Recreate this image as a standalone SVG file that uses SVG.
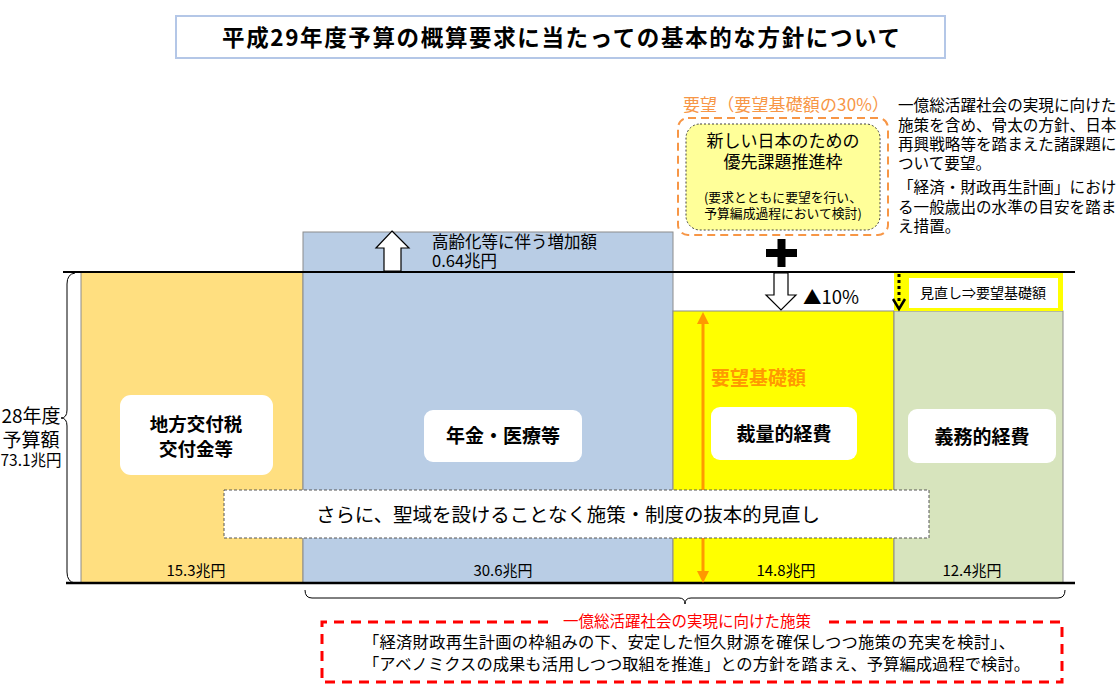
<svg xmlns="http://www.w3.org/2000/svg" width="1119" height="689" viewBox="0 0 1119 689">
<style>
text{font-family:"Noto Sans CJK JP","Noto Sans CJK SC",sans-serif;fill:#000}
.b{font-weight:bold}
.lbl{fill:#fff;stroke:none}
.bar{stroke:#8c8c8c;stroke-width:1}
.amt{font-size:15px;text-anchor:middle}
.rt{font-size:15.6px}
</style>
<rect width="1119" height="689" fill="#fff"/>
<g id="title">
<rect x="176" y="16" width="769" height="42" fill="#fff" stroke="#b4c7e7" stroke-width="2"/>
<text x="222" y="46" class="b" font-size="22.5" textLength="678">平成29年度予算の概算要求に当たっての基本的な方針について</text>
</g>
<g id="bars">
<rect class="bar" x="81" y="272" width="222" height="311" fill="#ffdf80"/>
<rect class="bar" x="303" y="232" width="370" height="351" fill="#b9cde5"/>
<rect class="bar" x="673" y="311" width="221" height="272" fill="#ffff00"/>
<rect class="bar" x="894" y="311" width="169" height="272" fill="#d7e4bd"/>
</g>
<g id="lines">
<line x1="63" y1="272" x2="1075" y2="272" stroke="#000" stroke-width="2"/>
<line x1="66" y1="583" x2="1075" y2="583" stroke="#000" stroke-width="2.5"/>
</g>
<g id="review">
<rect x="894" y="273" width="169" height="38" fill="#ffff00"/>
<rect x="909" y="278" width="149" height="30" fill="#fff"/>
<text x="920" y="298" font-size="14">見直し⇒要望基礎額</text>
</g>
<g id="connectors" fill="none" stroke="#000">
<path d="M75,273 Q67,274 67,284 L67,410 Q67,418 61,418 Q67,418 67,426 L67,572 Q67,582 75,583" stroke-width="1"/>
<path d="M305,590 Q305,598 312,598 L679,598 Q685,598 685,604 Q685,598 691,598 L1058,598 Q1065,598 1065,590" stroke-width="1"/>
<polygon points="392,231 409,248 401,248 401,271 384,271 384,248 376,248" fill="#fff" stroke-width="1.2"/>
<polygon points="774,273 788,273 788,295 796,295 781,310 766,295 774,295" fill="#fff" stroke-width="1.2"/>
<line x1="899" y1="274" x2="899" y2="304" stroke-width="3" stroke-dasharray="3 3"/>
<polyline points="893,299 899,309 905,299" stroke-width="2.5"/>
<line x1="703" y1="320" x2="703" y2="575" stroke="#ff9900" stroke-width="3"/>
<polygon points="703,312 697,324 709,324" fill="#ff9900" stroke="none"/>
<polygon points="703,583 697,571 709,571" fill="#ff9900" stroke="none"/>
</g>
<g id="plus" fill="#000">
<rect x="766" y="249" width="31" height="8"/>
<rect x="777.5" y="239" width="8" height="28"/>
</g>
<g id="budget28">
<text x="31" y="423" font-size="19" text-anchor="middle">28年度</text>
<text x="31" y="447" font-size="19" text-anchor="middle">予算額</text>
<text x="31" y="466" font-size="15.5" text-anchor="middle">73.1兆円</text>
</g>
<g id="increase">
<text x="432" y="248" font-size="16.5">高齢化等に伴う増加額</text>
<text x="432" y="267" font-size="16.5">0.64兆円</text>
</g>
<g id="cut">
<text x="803" y="304" font-size="18.5">▲10%</text>
</g>
<g id="node-local">
<rect class="lbl" x="120" y="395" width="153" height="80" rx="11"/>
<text x="196" y="431" class="b" font-size="18.5" text-anchor="middle">地方交付税</text>
<text x="196" y="456" class="b" font-size="18.5" text-anchor="middle">交付金等</text>
<text x="196" y="576" class="amt">15.3兆円</text>
</g>
<g id="node-pension">
<rect class="lbl" x="424" y="410" width="158" height="52" rx="9"/>
<text x="503" y="443" class="b" font-size="19" text-anchor="middle">年金・医療等</text>
<text x="503" y="576" class="amt">30.6兆円</text>
</g>
<g id="node-discretionary">
<text x="711" y="385" class="b" font-size="19" style="fill:#ff9900">要望基礎額</text>
<rect class="lbl" x="711" y="407" width="146" height="53" rx="9"/>
<text x="784" y="441" class="b" font-size="19" text-anchor="middle">裁量的経費</text>
<text x="786" y="576" class="amt">14.8兆円</text>
</g>
<g id="node-mandatory">
<rect class="lbl" x="908" y="409" width="148" height="54" rx="9"/>
<text x="982" y="444" class="b" font-size="19" text-anchor="middle">義務的経費</text>
<text x="972" y="576" class="amt">12.4兆円</text>
</g>
<g id="node-review-all">
<rect x="224" y="490" width="705" height="48" fill="#fff" stroke="#555" stroke-width="1" stroke-dasharray="3 2"/>
<text x="316" y="522" font-size="19.5" textLength="504">さらに、聖域を設けることなく施策・制度の抜本的見直し</text>
</g>
<g id="node-request">
<text x="683" y="111" font-size="17" textLength="206" style="fill:#f79646">要望（要望基礎額の30%）</text>
<rect x="678" y="118" width="210" height="117" rx="10" fill="none" stroke="#f79646" stroke-width="2" stroke-dasharray="8 5"/>
<rect x="686" y="124" width="194" height="106" rx="14" fill="#ffff99" stroke="#404040" stroke-width="1" stroke-dasharray="2 2"/>
<text x="783" y="147" font-size="17" text-anchor="middle">新しい日本のための</text>
<text x="783" y="168" font-size="17" text-anchor="middle">優先課題推進枠</text>
<text x="783" y="202" font-size="12.8" text-anchor="middle">(要求とともに要望を行い、</text>
<text x="783" y="218" font-size="12.8" text-anchor="middle">予算編成過程において検討)</text>
</g>
<g id="note-right">
<text x="898" y="111" class="rt">一億総活躍社会の実現に向けた</text>
<text x="898" y="131" class="rt">施策を含め、骨太の方針、日本</text>
<text x="898" y="150" class="rt">再興戦略等を踏まえた諸課題に</text>
<text x="898" y="169" class="rt">ついて要望。</text>
<text x="898" y="193" class="rt">「経済・財政再生計画」におけ</text>
<text x="898" y="213" class="rt">る一般歳出の水準の目安を踏ま</text>
<text x="898" y="232" class="rt">え措置。</text>
</g>
<g id="node-policy">
<path d="M548,622 L322,622 L322,682 L1062,682 L1062,622 L828,622" fill="none" stroke="#ff0000" stroke-width="3" stroke-dasharray="10 7"/>
<text x="687" y="627" font-size="15.5" text-anchor="middle" style="fill:#ff0000">一億総活躍社会の実現に向けた施策</text>
<text x="363" y="648" font-size="16.3" textLength="652">「経済財政再生計画の枠組みの下、安定した恒久財源を確保しつつ施策の充実を検討」、</text>
<text x="363" y="670" font-size="16.3" textLength="667">「アベノミクスの成果も活用しつつ取組を推進」との方針を踏まえ、予算編成過程で検討。</text>
</g>
</svg>
